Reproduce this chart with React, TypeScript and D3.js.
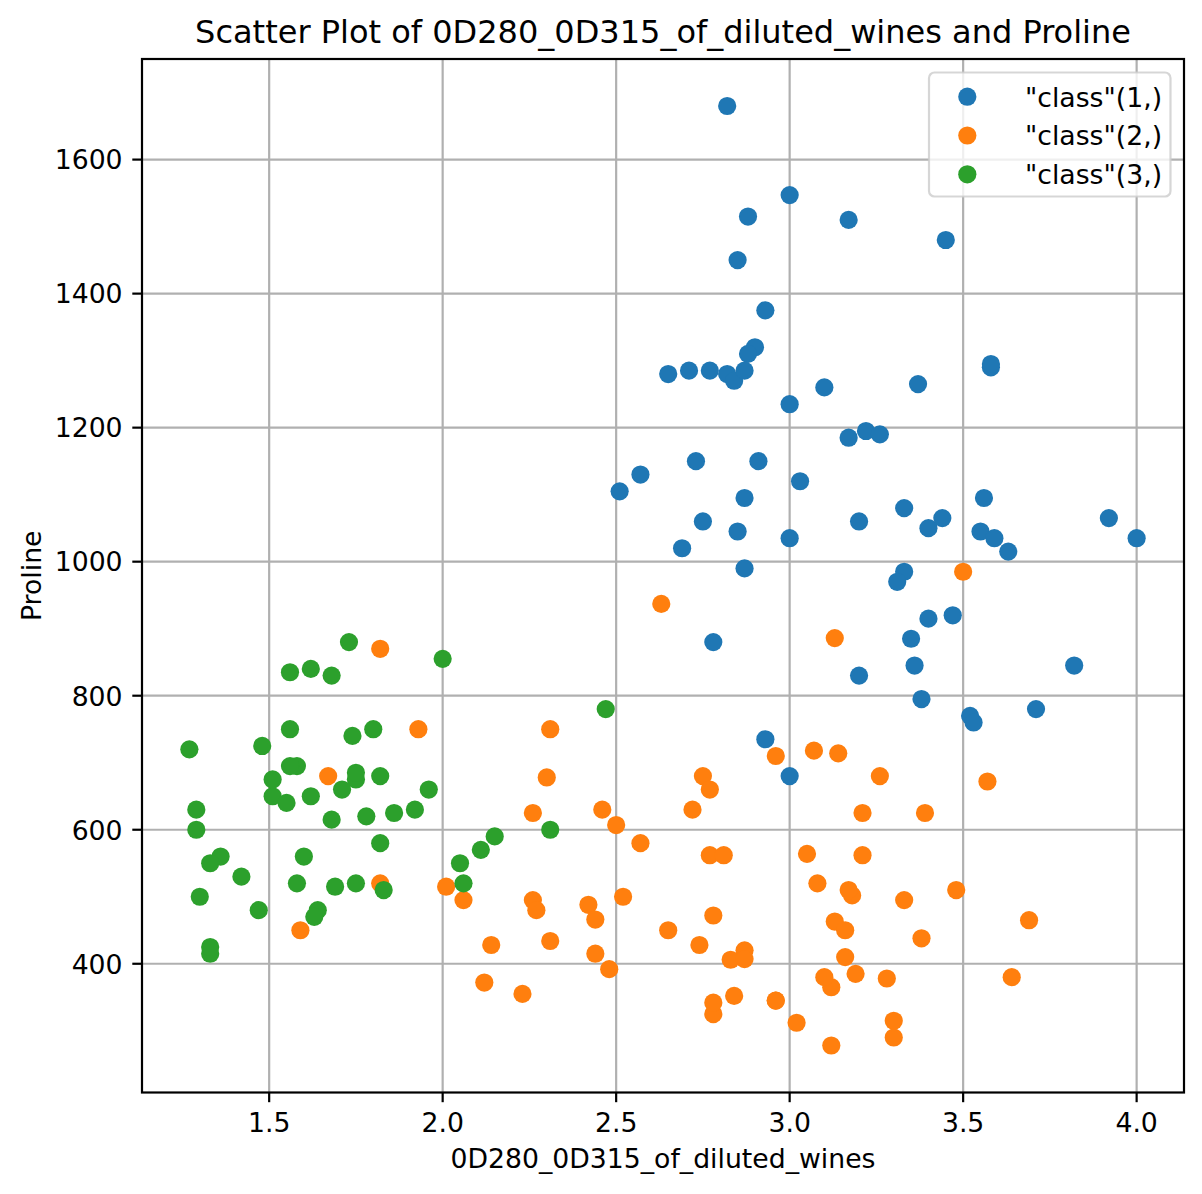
import * as d3 from "d3";

// OD280/OD315 of diluted wines and Proline, per class
const class1Od = [3.92, 3.4, 3.17, 3.45, 2.93, 2.85, 3.58, 3.58, 2.85, 3.55, 3.17, 2.82, 2.9, 2.73, 3, 2.88, 2.65, 2.57, 2.82, 3.36, 3.71, 3.52, 4, 3.63, 3.82, 3.2, 3.22, 2.77, 3.4, 3.59, 2.71, 2.88, 2.87, 3, 2.87, 3.47, 2.78, 2.51, 2.69, 3.53, 3.38, 3, 3.56, 3, 3.35, 3.33, 3.44, 3.33, 2.75, 3.1, 2.91, 3.37, 3.26, 2.93, 3.2, 3.03, 3.31, 2.84, 2.87];
const class1Proline = [1065, 1050, 1185, 1480, 735, 1450, 1290, 1295, 1045, 1045, 1510, 1280, 1320, 1150, 1547, 1310, 1280, 1130, 1680, 845, 780, 770, 1035, 1015, 845, 830, 1195, 1285, 915, 1035, 1285, 1515, 990, 1235, 1095, 920, 880, 1105, 1020, 760, 795, 1035, 1095, 680, 885, 1080, 1065, 985, 1060, 1260, 1150, 1265, 1190, 1375, 1060, 1120, 970, 1270, 1285];

const class2Od = [1.82, 1.67, 1.59, 2.46, 2.87, 2.23, 2.3, 3.18, 3.48, 1.93, 3.07, 1.82, 3.16, 2.78, 3.5, 3.13, 2.14, 2.48, 2.52, 2.31, 3.13, 3.12, 3.14, 2.72, 2.01, 3.08, 3.16, 2.26, 3.21, 2.75, 3.21, 2.27, 2.65, 2.06, 3.3, 2.96, 2.63, 2.26, 2.74, 2.77, 2.83, 2.96, 2.77, 3.38, 2.44, 3.57, 3.3, 3.17, 2.42, 3.02, 3.26, 2.81, 2.78, 2.5, 2.31, 3.19, 2.87, 3.33, 2.96, 2.12, 3.05, 3.39, 3.69, 3.12, 3.1, 3.64, 3.28, 2.84, 2.44, 2.78, 2.57];
const class2Proline = [520, 680, 450, 630, 420, 355, 678, 502, 510, 750, 718, 870, 410, 472, 985, 886, 428, 392, 500, 750, 463, 278, 714, 630, 515, 520, 450, 495, 562, 680, 625, 480, 450, 495, 290, 345, 937, 625, 428, 660, 406, 710, 562, 438, 415, 672, 315, 510, 488, 312, 680, 562, 325, 607, 434, 385, 407, 495, 345, 372, 564, 625, 465, 365, 380, 380, 378, 352, 466, 342, 580];

const class3Od = [1.29, 1.42, 1.36, 1.29, 1.51, 1.58, 1.27, 1.69, 1.82, 2.15, 2.31, 2.47, 2.06, 2.05, 2, 1.68, 1.33, 1.86, 1.62, 1.33, 1.3, 1.47, 1.33, 1.51, 1.55, 1.48, 1.64, 1.73, 1.96, 1.78, 1.58, 1.82, 2.11, 1.75, 1.68, 1.75, 1.56, 1.75, 1.8, 1.92, 1.83, 1.63, 1.71, 1.74, 1.56, 1.56, 1.62, 1.6];
const class3Proline = [630, 530, 560, 600, 650, 695, 720, 515, 580, 590, 600, 780, 520, 550, 855, 830, 415, 625, 650, 550, 500, 480, 425, 675, 640, 725, 480, 880, 660, 620, 520, 680, 570, 675, 615, 520, 695, 685, 750, 630, 510, 470, 660, 740, 750, 835, 840, 560];

const classLabels = ['"class"(1,)', '"class"(2,)', '"class"(3,)'];
const xTicks = [1.5, 2.0, 2.5, 3.0, 3.5, 4.0];
const yTicks = [400, 600, 800, 1000, 1200, 1400, 1600];

export default function App() {
  const width = 1202;
  const height = 1194;
  const left = 142;
  const right = 1184;
  const top = 59;
  const bottom = 1092.5;

  const series = [
    { od: class1Od, pr: class1Proline, color: "#1f77b4" },
    { od: class2Od, pr: class2Proline, color: "#ff7f0e" },
    { od: class3Od, pr: class3Proline, color: "#2ca02c" },
  ];

  // matplotlib-like 5% margins
  const allX = [...class1Od, ...class2Od, ...class3Od];
  const allY = [...class1Proline, ...class2Proline, ...class3Proline];
  const [x0, x1] = d3.extent(allX) as [number, number];
  const [y0, y1] = d3.extent(allY) as [number, number];
  const mx = (x1 - x0) * 0.05;
  const my = (y1 - y0) * 0.05;

  const x = d3.scaleLinear().domain([x0 - mx, x1 + mx]).range([left, right]);
  const y = d3.scaleLinear().domain([y0 - my, y1 + my]).range([bottom, top]);

  const font = "DejaVu Sans, sans-serif";
  const fs = 26.7;
  const tickLen = 9.7;
  const pad = 9.7;
  const r = 9.1;

  return (
    <svg
      width={width}
      height={height}
      style={{ position: "absolute", left: 0, top: 0, background: "#fff" }}
      fontFamily={font}
    >
      <rect x={0} y={0} width={width} height={height} fill="#fff" />

      {/* grid */}
      <g stroke="#b0b0b0" strokeWidth={2.2}>
        {xTicks.map((t) => (
          <line key={"gx" + t} x1={x(t)} x2={x(t)} y1={top} y2={bottom} />
        ))}
        {yTicks.map((t) => (
          <line key={"gy" + t} x1={left} x2={right} y1={y(t)} y2={y(t)} />
        ))}
      </g>

      {/* points */}
      {series.map((s, i) => (
        <g key={"s" + i} fill={s.color}>
          {s.od.map((v, j) => (
            <circle key={j} cx={x(v)} cy={y(s.pr[j])} r={r} />
          ))}
        </g>
      ))}

      {/* spines */}
      <rect
        x={left}
        y={top}
        width={right - left}
        height={bottom - top}
        fill="none"
        stroke="#000"
        strokeWidth={2.2}
      />

      {/* x ticks */}
      <g>
        {xTicks.map((t) => (
          <g key={"xt" + t}>
            <line x1={x(t)} x2={x(t)} y1={bottom} y2={bottom + tickLen} stroke="#000" strokeWidth={2.2} />
            <text x={x(t)} y={bottom + tickLen + pad + 20} textAnchor="middle" fontSize={fs}>
              {t.toFixed(1)}
            </text>
          </g>
        ))}
      </g>

      {/* y ticks */}
      <g>
        {yTicks.map((t) => (
          <g key={"yt" + t}>
            <line x1={left - tickLen} x2={left} y1={y(t)} y2={y(t)} stroke="#000" strokeWidth={2.2} />
            <text x={left - tickLen - pad} y={y(t) + 9.8} textAnchor="end" fontSize={fs}>
              {t}
            </text>
          </g>
        ))}
      </g>

      {/* labels */}
      <text x={(left + right) / 2} y={1168} textAnchor="middle" fontSize={fs}>
        0D280_0D315_of_diluted_wines
      </text>
      <text
        transform={`translate(41,${(top + bottom) / 2}) rotate(-90)`}
        textAnchor="middle"
        fontSize={fs}
      >
        Proline
      </text>
      <text x={(left + right) / 2} y={42.5} textAnchor="middle" fontSize={32}>
        Scatter Plot of 0D280_0D315_of_diluted_wines and Proline
      </text>

      {/* legend */}
      <g>
        <rect
          x={929}
          y={72.5}
          width={241.5}
          height={124}
          rx={5.5}
          ry={5.5}
          fill="#fff"
          fillOpacity={0.8}
          stroke="#cccccc"
          strokeOpacity={0.8}
          strokeWidth={2.2}
        />
        {classLabels.map((lab, i) => (
          <g key={lab}>
            <circle cx={967.3} cy={96.7 + i * 38.8} r={r} fill={series[i].color} />
            <text x={1025} y={96.7 + i * 38.8 + 9.8} fontSize={fs}>
              {lab}
            </text>
          </g>
        ))}
      </g>
    </svg>
  );
}
